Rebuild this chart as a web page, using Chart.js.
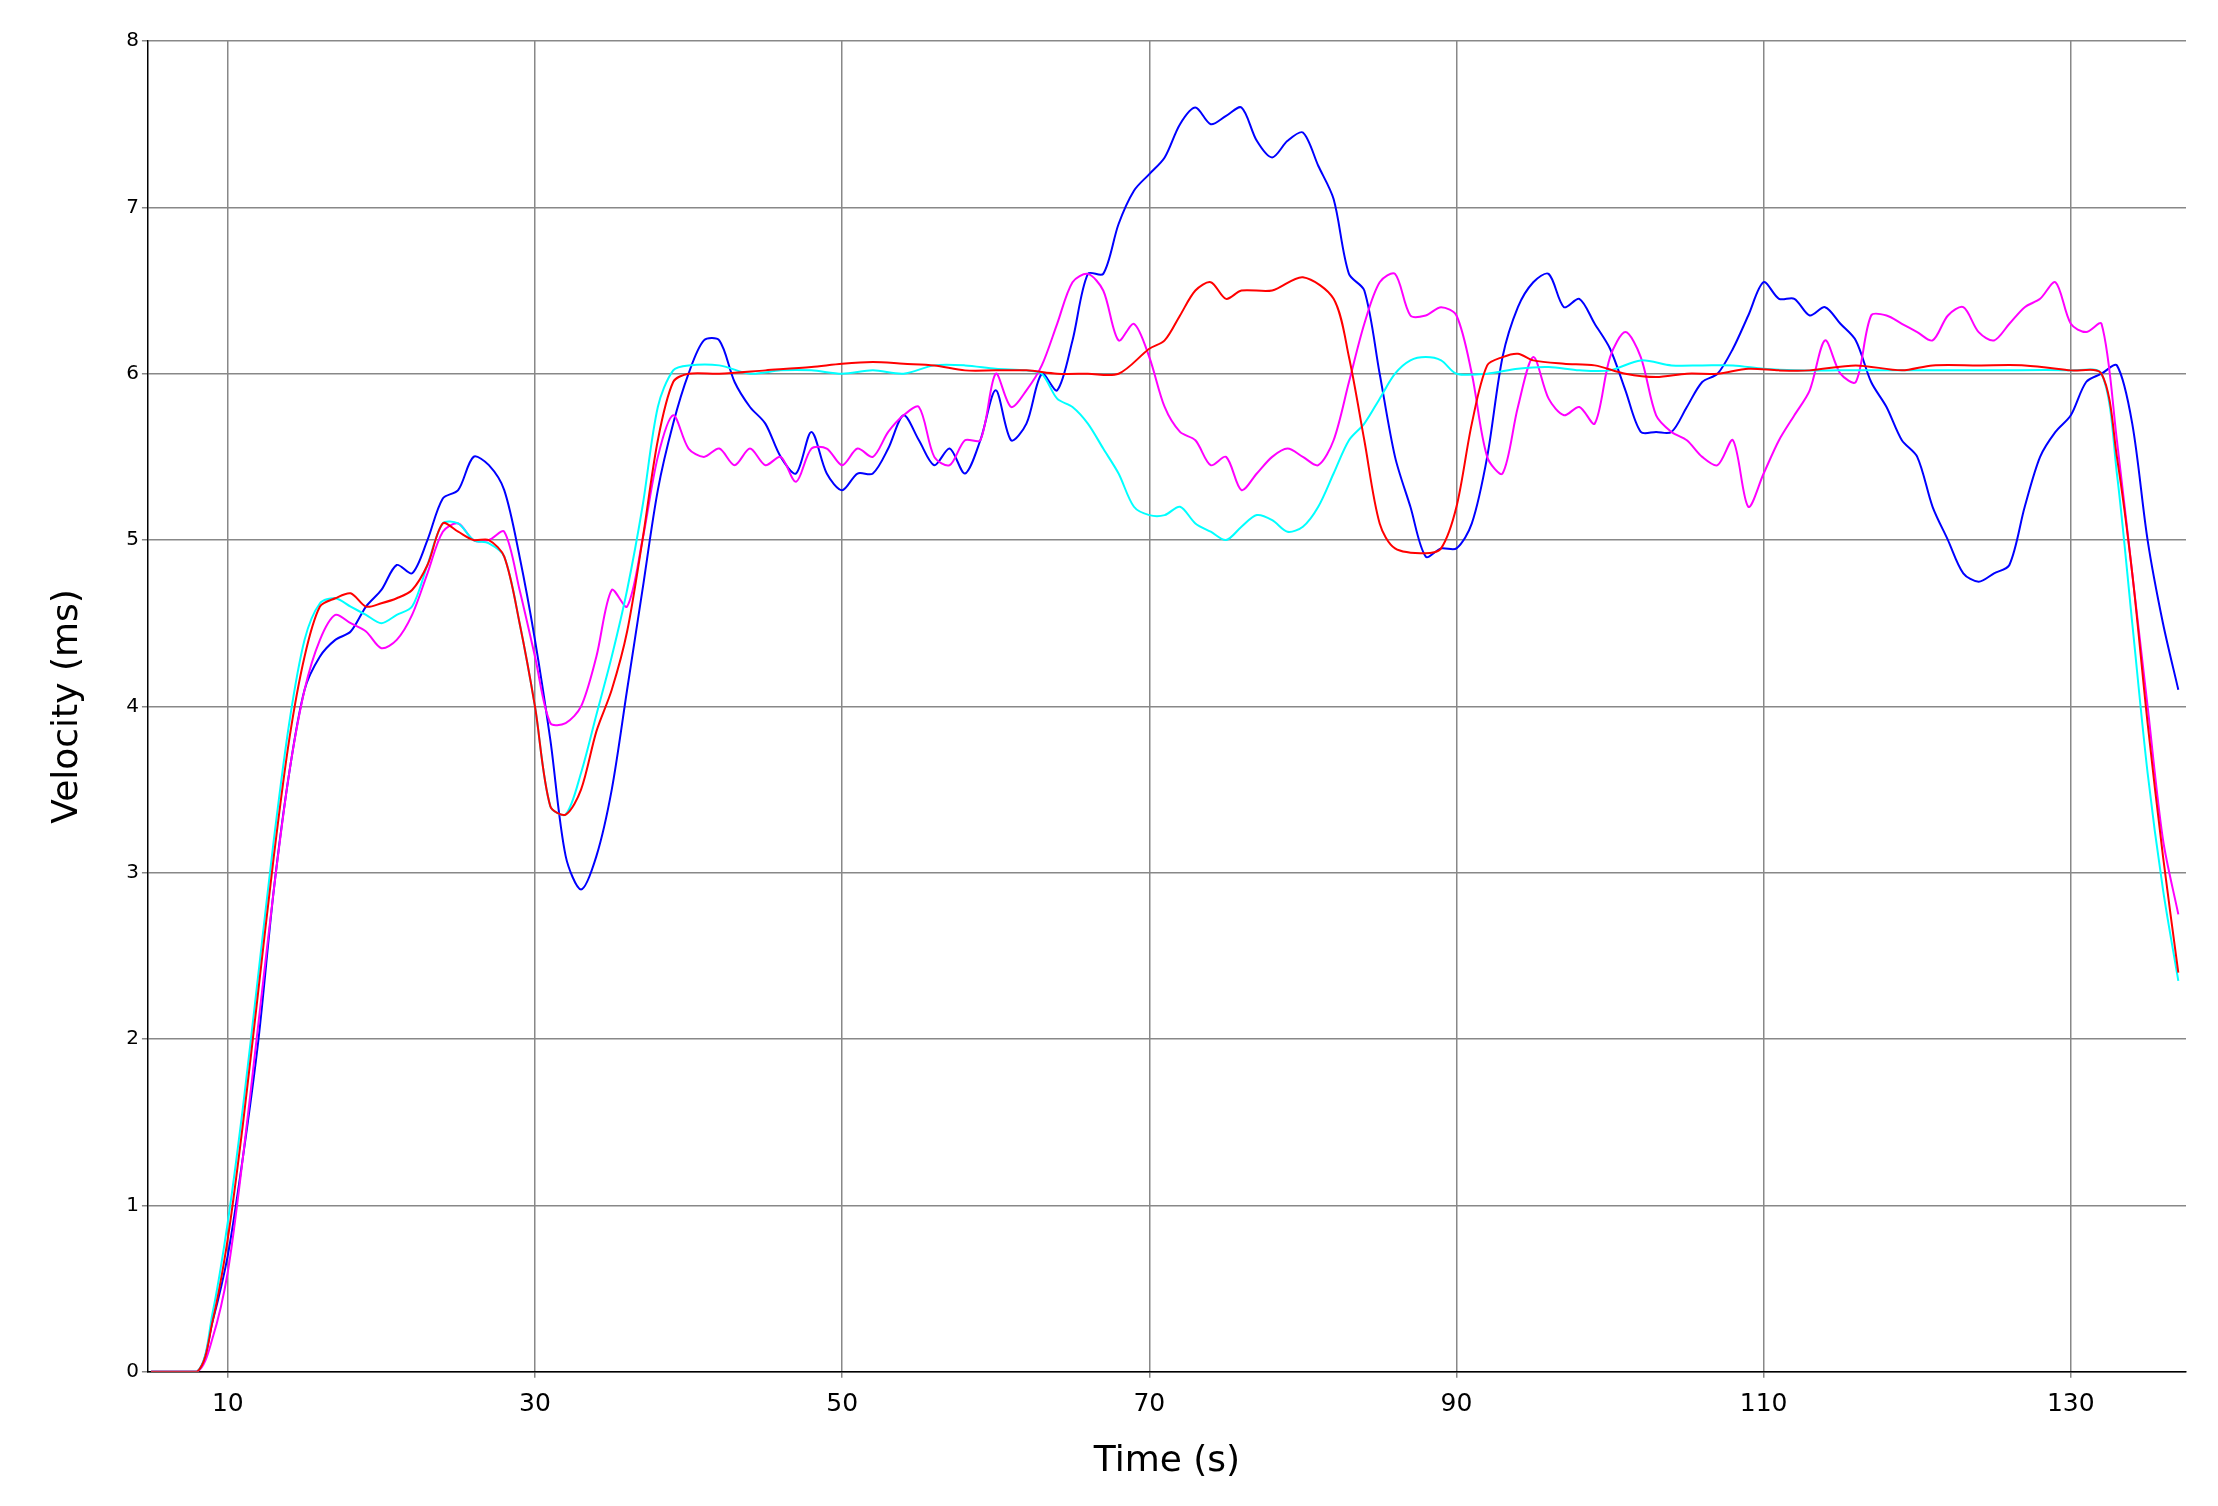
<!DOCTYPE html>
<html><head><meta charset="utf-8">
<script src="https://cdn.jsdelivr.net/npm/chart.js@4"></script>
<style>html,body{margin:0;background:#fff}#w{width:2218px;height:1506px}</style>
</head><body><div id="w"><canvas id="c"></canvas></div>
<script>
const blueT=[5,8,9,10,11,12,13,14,15,16,17,18,19,20,21,22,23,24,25,26,27,28,29,30,31,32,33,34,35,36,37,38,39,40,41,42,43,44,45,46,47,48,49,50,51,52,53,54,55,56,57,58,59,60,61,62,63,64,65,66,67,68,69,70,71,72,73,74,75,76,77,78,79,80,81,82,83,84,85,86,87,88,89,90,91,92,93,94,95,96,97,98,99,100,101,102,103,104,105,106,107,108,109,110,111,112,113,114,115,116,117,118,119,120,121,122,123,124,125,126,127,128,129,130,131,132,133,134,135,136,137];
const blueV=[0,0,0.3,0.7,1.3,2.0,2.9,3.6,4.1,4.3,4.4,4.45,4.6,4.7,4.85,4.8,5.0,5.25,5.3,5.5,5.45,5.3,4.9,4.4,3.8,3.1,2.9,3.1,3.5,4.1,4.7,5.3,5.7,6.0,6.2,6.2,5.95,5.8,5.7,5.5,5.4,5.65,5.4,5.3,5.4,5.4,5.55,5.75,5.6,5.45,5.55,5.4,5.6,5.9,5.6,5.7,6.0,5.9,6.2,6.6,6.6,6.9,7.1,7.2,7.3,7.5,7.6,7.5,7.55,7.6,7.4,7.3,7.4,7.45,7.25,7.05,6.6,6.5,6.0,5.5,5.2,4.9,4.95,4.95,5.1,5.5,6.1,6.4,6.55,6.6,6.4,6.45,6.3,6.15,5.9,5.65,5.65,5.65,5.8,5.95,6.0,6.15,6.35,6.55,6.45,6.45,6.35,6.4,6.3,6.2,5.95,5.8,5.6,5.5,5.2,5.0,4.8,4.75,4.8,4.85,5.2,5.5,5.65,5.75,5.95,6.0,6.05,5.7,5.0,4.5,4.1];
const magT=blueT;
const magV=[0,0,0.2,0.6,1.3,2.1,2.9,3.6,4.1,4.4,4.55,4.5,4.45,4.35,4.4,4.55,4.8,5.05,5.1,5.0,5.0,5.05,4.7,4.3,3.9,3.9,4.0,4.3,4.7,4.6,5.0,5.5,5.75,5.55,5.5,5.55,5.45,5.55,5.45,5.5,5.35,5.55,5.55,5.45,5.55,5.5,5.65,5.75,5.8,5.5,5.45,5.6,5.6,6.0,5.8,5.9,6.05,6.3,6.55,6.6,6.5,6.2,6.3,6.1,5.8,5.65,5.6,5.45,5.5,5.3,5.4,5.5,5.55,5.5,5.45,5.6,5.95,6.3,6.55,6.6,6.35,6.35,6.4,6.35,6.0,5.5,5.4,5.8,6.1,5.85,5.75,5.8,5.7,6.1,6.25,6.1,5.75,5.65,5.6,5.5,5.45,5.6,5.2,5.4,5.6,5.75,5.9,6.2,6.0,5.95,6.35,6.35,6.3,6.25,6.2,6.35,6.4,6.25,6.2,6.3,6.4,6.45,6.55,6.3,6.25,6.3,5.6,4.8,4.0,3.2,2.75];
const redT=[5,8,9,10,11,12,13,14,15,16,17,18,19,20,21,22,23,24,25,26,27,28,29,30,31,32,33,34,35,36,37,38,39,40,42,45,48,50,52,54,56,58,60,62,64,66,68,70,71,72,73,74,75,76,78,80,82,83,84,85,86,88,89,90,91,92,93,94,95,97,99,101,103,105,107,109,111,113,116,119,121,124,127,130,132,133,134,135,136,137];
const redV=[0,0,0.3,0.8,1.5,2.3,3.1,3.8,4.3,4.6,4.65,4.68,4.6,4.62,4.65,4.7,4.85,5.1,5.05,5.0,5.0,4.9,4.5,4.0,3.4,3.35,3.5,3.85,4.1,4.45,5.0,5.6,5.95,6.0,6.0,6.02,6.04,6.06,6.07,6.06,6.05,6.02,6.02,6.02,6.0,6.0,6.0,6.15,6.2,6.35,6.5,6.55,6.45,6.5,6.5,6.58,6.45,6.1,5.6,5.1,4.95,4.92,4.95,5.2,5.7,6.05,6.1,6.12,6.08,6.06,6.05,6.0,5.98,6.0,6.0,6.03,6.02,6.02,6.05,6.02,6.05,6.05,6.05,6.02,6.0,5.5,4.8,3.9,3.1,2.4];
const cyanT=[5,8,9,10,11,12,13,14,15,16,17,18,19,20,21,22,23,24,25,26,27,28,29,30,31,32,33,34,35,36,37,38,39,40,42,44,46,48,50,52,54,56,58,60,62,63,64,65,66,67,68,69,70,71,72,73,74,75,76,77,78,79,80,81,82,83,84,85,86,87,88,89,90,92,94,96,98,100,102,104,106,108,110,112,115,120,125,130,132,133,134,135,136,137];
const cyanV=[0,0,0.35,0.9,1.6,2.4,3.2,3.9,4.4,4.62,4.65,4.6,4.55,4.5,4.55,4.6,4.85,5.1,5.1,5.0,4.98,4.9,4.5,4.0,3.4,3.35,3.6,3.95,4.3,4.7,5.2,5.8,6.02,6.05,6.05,6.0,6.02,6.02,6.0,6.02,6.0,6.05,6.05,6.03,6.02,6.0,5.85,5.8,5.7,5.55,5.4,5.2,5.15,5.15,5.2,5.1,5.05,5.0,5.08,5.15,5.12,5.05,5.08,5.2,5.4,5.6,5.7,5.85,6.0,6.08,6.1,6.08,6.0,6.0,6.03,6.04,6.02,6.02,6.08,6.05,6.05,6.05,6.03,6.02,6.02,6.02,6.02,6.02,6.0,5.4,4.5,3.6,2.9,2.35];
const xTicks=[10,30,50,70,90,110,130];
const yTicks=[0,1,2,3,4,5,6,7,8];
const pts=(t,v)=>t.map((x,i)=>({x,y:v[i]}));
const ds=(t,v,c)=>({data:pts(t,v),borderColor:c,borderWidth:2,pointRadius:0,tension:0.3,fill:false});
new Chart(document.getElementById('c'),{type:'line',
data:{datasets:[ds(redT,redV,'#ff0000'),ds(cyanT,cyanV,'#00ffff'),ds(magT,magV,'#ff00ff'),ds(blueT,blueV,'#0000ff')]},
options:{responsive:true,maintainAspectRatio:false,animation:false,
layout:{padding:{left:42,right:32,top:41,bottom:19}},
plugins:{legend:{display:false},tooltip:{enabled:false}},
scales:{
x:{type:'linear',min:4.8,max:137.5,afterBuildTicks:a=>{a.ticks=xTicks.map(v=>({value:v}));},
 grid:{color:'#888',lineWidth:1.5,drawTicks:true,tickLength:6},border:{color:'#000',width:1.5},
 ticks:{color:'#000',font:{size:25,family:'DejaVu Sans'},maxRotation:0,autoSkip:false,padding:12},
 title:{display:true,text:'Time (s)',color:'#000',font:{size:36,family:'DejaVu Sans'},padding:{top:8}}},
y:{min:0,max:8,afterBuildTicks:a=>{a.ticks=yTicks.map(v=>({value:v}));},
 grid:{color:'#888',lineWidth:1.5,tickLength:6},border:{color:'#000',width:1.5},
 ticks:{color:'#000',font:{size:20,family:'DejaVu Sans'}},
 title:{display:true,text:'Velocity (ms)',color:'#000',font:{size:36,family:'DejaVu Sans'},padding:{bottom:34}}}
}}});
</script></body></html>
